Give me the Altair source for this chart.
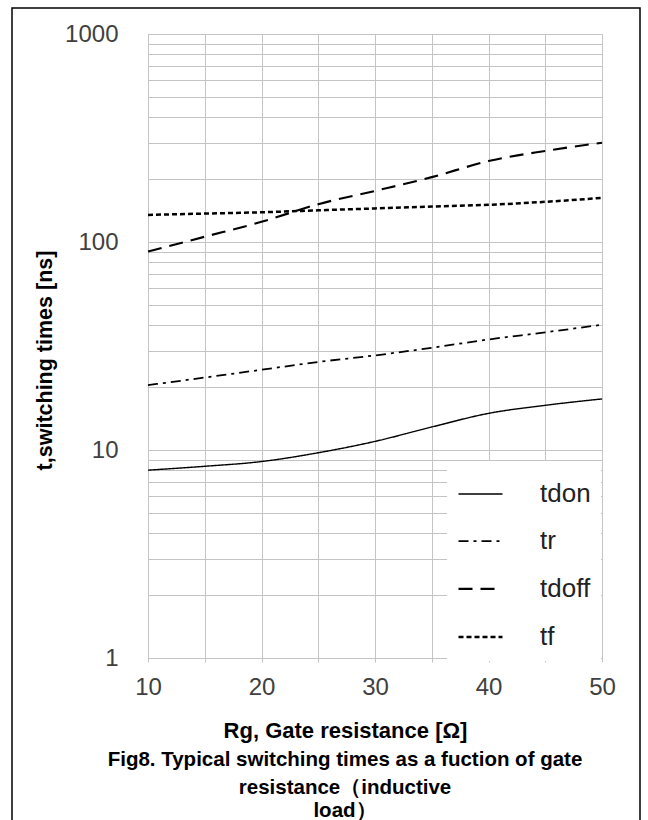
import altair as alt
import pandas as pd

# ---- data ----
rg = [10, 15, 20, 25, 30, 35, 40, 45, 50]
tdon = [8.0, 8.35, 8.8, 9.7, 11.0, 12.9, 15.0, 16.4, 17.6]
tr = [20.5, 22.3, 24.3, 26.5, 28.5, 31.0, 34.0, 36.8, 40.0]
tdoff = [90, 106, 125, 152, 176, 205, 245, 274, 300]
tf = [135, 137, 139, 142, 145, 148, 151, 156, 163]
series_names = ["tdon", "tr", "tdoff", "tf"]

x_ticks = [10, 15, 20, 25, 30, 35, 40, 45, 50]
y_ticks = [1, 2, 3, 4, 5, 6, 7, 8, 9,
           10, 20, 30, 40, 50, 60, 70, 80, 90,
           100, 200, 300, 400, 500, 600, 700, 800, 900, 1000]

caption = ["Fig8. Typical switching times as a fuction of gate",
           "resistance（inductive",
           "load）"]

rows = []
for name, vals in zip(series_names, [tdon, tr, tdoff, tf]):
    for r, v in zip(rg, vals):
        rows.append({"Rg": r, "t": v, "series": name})
df = pd.DataFrame(rows)

FONT = "Liberation Sans, Arial, sans-serif"
GRID = "#c4c4c4"

lines = alt.Chart(df).mark_line(interpolate="monotone", color="black").encode(
    x=alt.X(
        "Rg:Q",
        scale=alt.Scale(domain=[10, 50], nice=False),
        axis=alt.Axis(
            values=x_ticks,
            labelExpr="datum.value % 10 == 0 ? datum.label : ''",
            labelFlush=False,
            labelOverlap=False,
            grid=True, gridColor=GRID, gridWidth=1,
            domainColor=GRID, tickColor=GRID, tickSize=4,
            labelPadding=13, labelFontSize=24, labelFont=FONT, labelColor="#404040",
            title="Rg, Gate resistance [Ω]",
            titleFont=FONT, titleFontSize=22, titleFontWeight="bold", titleColor="black",
            titleX=197, titleY=72, titleBaseline="middle", titleAlign="center",
        ),
    ),
    y=alt.Y(
        "t:Q",
        scale=alt.Scale(type="log", domain=[1, 1000], nice=False),
        axis=alt.Axis(
            values=y_ticks,
            labelExpr="(datum.value == 1 || datum.value == 10 || datum.value == 100 || datum.value == 1000) ? format(datum.value, 'd') : ''",
            labelFlush=False,
            labelOverlap=False,
            grid=True, gridColor=GRID, gridWidth=1,
            domainColor=GRID, ticks=False,
            labelPadding=30, labelFontSize=24, labelFont=FONT, labelColor="#404040",
            title="t,switching times [ns]",
            titleFont=FONT, titleFontSize=21.5, titleFontWeight="bold", titleColor="black",
            titleX=-103, titleY=326, titleBaseline="middle", titleAlign="center",
        ),
    ),
    strokeDash=alt.StrokeDash(
        "series:N",
        scale=alt.Scale(domain=series_names,
                        range=[[1, 0], [10, 5, 3, 5], [14, 8], [5, 3]]),
        legend=alt.Legend(
            title=None, orient="none", legendX=299, legendY=427,
            fillColor="white", padding=10,
            symbolType="stroke", symbolSize=1936, symbolStrokeWidth=2.5,
            symbolStrokeColor="black",
            labelFont=FONT, labelFontSize=26, labelColor="#222222",
            labelOffset=36, rowPadding=11.2,
        ),
    ),
    strokeWidth=alt.StrokeWidth(
        "series:N",
        scale=alt.Scale(domain=series_names, range=[1.4, 2.5, 3, 2.5]),
        legend=None,
    ),
)

border = alt.Chart(pd.DataFrame({"a": [0]})).mark_rect(
    fillOpacity=0, stroke="black", strokeWidth=1.5
).encode(
    x=alt.value(-136), x2=alt.value(492), y=alt.value(-26), y2=alt.value(796)
)

caption_layers = []
for line_text, ypix in zip(caption, [726, 754, 777]):
    caption_layers.append(
        alt.Chart(pd.DataFrame({"a": [0]})).mark_text(
            text=line_text, font=FONT, fontSize=20.5, fontWeight="bold",
            color="black", align="center", baseline="middle",
        ).encode(x=alt.value(197), y=alt.value(ypix))
    )

chart = alt.layer(lines, border, *caption_layers).properties(
    width=454,
    height=624,
    padding={"left": 148, "top": 34, "right": 46, "bottom": 162},
    autosize=alt.AutoSizeParams(type="none"),
).configure_view(stroke=None).configure(background="white")

chart.save("out.html", embed_options={"renderer": "svg", "actions": False})
